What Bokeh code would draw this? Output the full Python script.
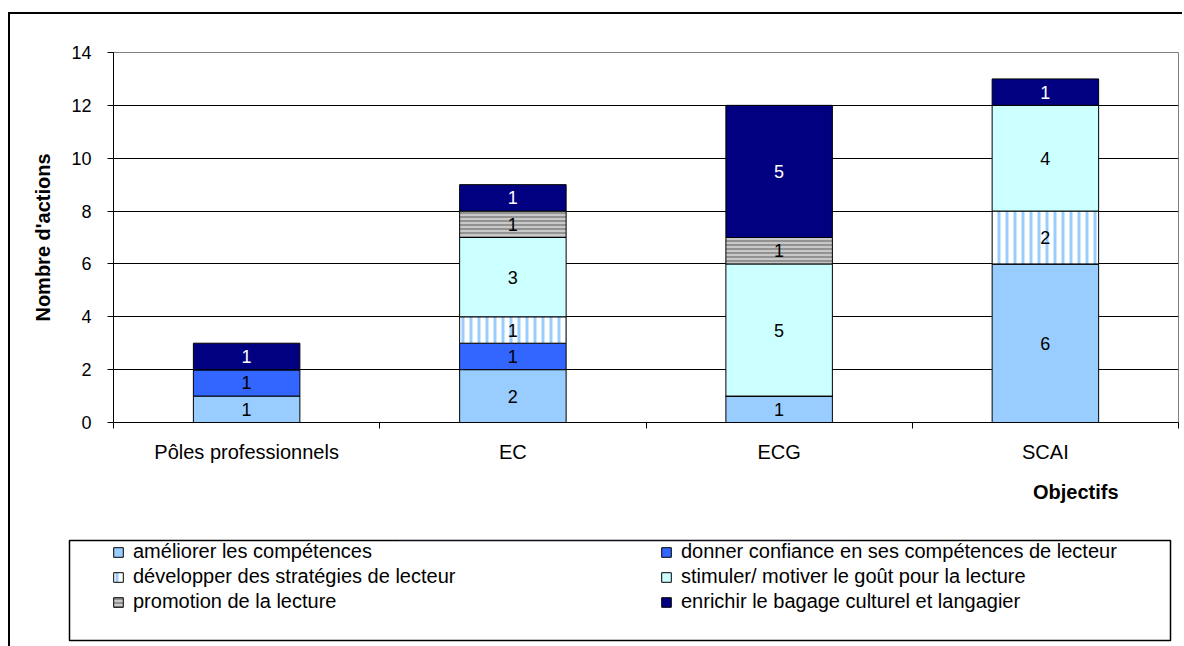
import numpy as np
from bokeh.plotting import figure
from bokeh.layouts import column
from bokeh.models import (Range1d, FixedTicker, Legend, LegendItem, Title,
                          ColumnDataSource)
from bokeh.core.properties import value
from bokeh.embed import file_html
from bokeh.resources import INLINE

# ---------------- data ----------------
categories = ["Pôles professionnels", "EC", "ECG", "SCAI"]
series_names = [
    "améliorer les compétences",
    "donner confiance en ses compétences de lecteur",
    "développer des stratégies de lecteur",
    "stimuler/ motiver le goût pour la lecture",
    "promotion de la lecture",
    "enrichir le bagage culturel et langagier",
]
ameliorer = [1, 2, 1, 6]
donner = [1, 1, 0, 0]
developper = [0, 1, 0, 2]
stimuler = [0, 3, 5, 4]
promotion = [0, 1, 1, 0]
enrichir = [1, 1, 5, 1]
series_values = [ameliorer, donner, developper, stimuler, promotion, enrichir]
y_ticks = [0, 2, 4, 6, 8, 10, 12, 14]
y_label = "Nombre d'actions"
x_label = "Objectifs"

# ---------------- styles ----------------
styles = [
    dict(fill_color="#99CCFF"),
    dict(fill_color="#3366FF"),
    dict(fill_color="#FFFFFF", hatch_pattern="vertical_line", hatch_color="#99CCFF",
         hatch_scale=8, hatch_weight=3),
    dict(fill_color="#CCFFFF"),
    dict(fill_color="#C8C8C8", hatch_pattern="horizontal_line", hatch_color="#808080",
         hatch_scale=4, hatch_weight=1.5),
    dict(fill_color="#000080"),
]
label_colors = ["black", "black", "black", "black", "black", "white"]
FONT = "Liberation Sans"

# ---------------- chart ----------------
p = figure(width=1172, height=506,
           x_range=Range1d(0, len(categories)), y_range=Range1d(0, y_ticks[-1]),
           output_backend="svg", toolbar_location=None,
           min_border_left=103, min_border_right=4, min_border_top=38,
           min_border_bottom=98)
p.frame_align = False
p.background_fill_color = "white"
p.border_fill_color = "white"
p.outline_line_color = "#808080"
p.outline_line_width = 1

xs = np.arange(len(categories)) + 0.5

xa = p.xaxis[0]
xa.ticker = FixedTicker(ticks=list(xs), minor_ticks=list(range(len(categories) + 1)))
xa.major_label_overrides = {float(x): c for x, c in zip(xs, categories)}
xa.major_tick_line_color = None
xa.major_tick_out = 0
xa.minor_tick_line_color = "black"
xa.minor_tick_out = 6
xa.minor_tick_in = 0
xa.axis_line_color = "black"
xa.major_label_text_font = FONT
xa.major_label_text_font_size = "20px"
xa.major_label_text_color = "black"
xa.major_label_standoff = 12

ya = p.yaxis[0]
ya.ticker = FixedTicker(ticks=y_ticks)
ya.major_tick_out = 6
ya.major_tick_in = 0
ya.minor_tick_line_color = None
ya.axis_line_color = "black"
ya.major_tick_line_color = "black"
ya.major_label_text_font = FONT
ya.major_label_text_font_size = "18px"
ya.major_label_text_color = "black"
ya.major_label_standoff = 16
ya.axis_label = y_label
ya.axis_label_text_font = FONT
ya.axis_label_text_font_size = "20px"
ya.axis_label_text_font_style = "bold"
ya.axis_label_text_color = "black"
ya.axis_label_standoff = 14

p.xgrid.visible = False
p.ygrid.ticker = FixedTicker(ticks=y_ticks[:-1])
p.ygrid.grid_line_color = "black"
p.ygrid.grid_line_width = 1

p.add_layout(Title(text=x_label, align="right", offset=60, standoff=26,
                   text_font=FONT, text_font_size="20px", text_font_style="bold",
                   text_color="black"), "below")

# ---------------- legend panel ----------------
q = figure(width=1172, height=126, x_range=Range1d(0, 1), y_range=Range1d(-2, -1),
           output_backend="svg", toolbar_location=None,
           x_axis_type=None, y_axis_type=None,
           min_border_left=59, min_border_right=12, min_border_top=20,
           min_border_bottom=6)
q.frame_align = False
q.grid.visible = False
q.background_fill_color = "white"
q.border_fill_color = "white"
q.outline_line_color = "black"
q.outline_line_width = 1.5

bottom = np.zeros(len(categories))
legend_renderers = []
lx, ly, lt, lc = [], [], [], []
for name, vals, st, tc in zip(series_names, series_values, styles, label_colors):
    vals = np.array(vals, dtype=float)
    top = bottom + vals
    src = ColumnDataSource(dict(x=xs, bottom=bottom.copy(), top=top))
    p.vbar(x="x", bottom="bottom", top="top", width=0.40, source=src,
           line_color="black", line_width=1, **st)
    r = q.vbar(x="x", bottom="bottom", top="top", width=0.40, source=src,
               line_color="black", line_width=1, **st)
    legend_renderers.append(r)
    for x, b, v in zip(xs, bottom, vals):
        if v > 0:
            lx.append(x); ly.append(b + v / 2); lt.append(str(int(v))); lc.append(tc)
    bottom = top

p.text(x=lx, y=ly, text=lt, text_color=lc, text_align="center",
       text_baseline="middle", text_font=value(FONT), text_font_size="18px")

def make_legend(idx, loc):
    lg = Legend(items=[LegendItem(label=series_names[i], renderers=[legend_renderers[i]])
                       for i in idx],
                location=loc, orientation="vertical",
                label_text_font=FONT, label_text_font_size="20px", label_text_color="black",
                glyph_width=12, glyph_height=12, label_standoff=9, label_height=20,
                spacing=2, padding=0, margin=0, border_line_alpha=0,
                background_fill_alpha=0)
    q.add_layout(lg, "center")

make_legend([0, 2, 4], (43, 27))
make_legend([1, 3, 5], (591, 27))

layout = column(p, q, margin=(12, 0, 0, 8), spacing=0,
                styles={"border-top": "2px solid black", "border-left": "2px solid black"})

open("out.html", "w").write(file_html(layout, INLINE))
